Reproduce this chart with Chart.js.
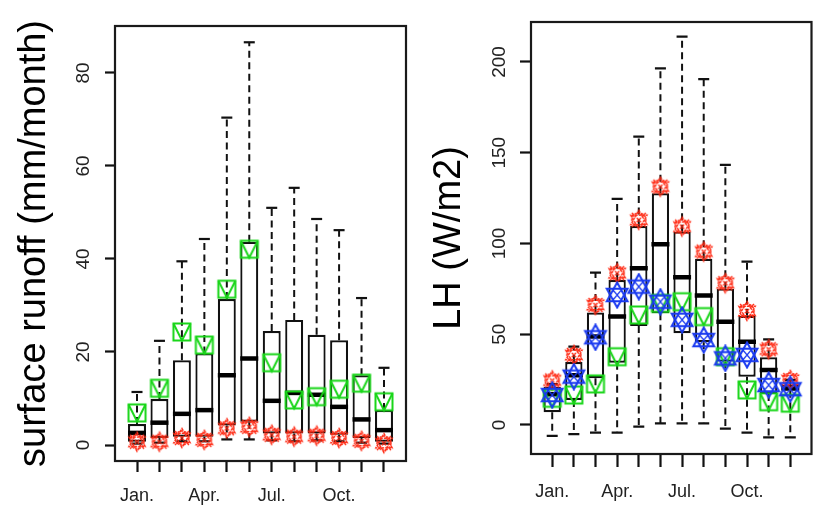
<!DOCTYPE html>
<html>
<head>
<meta charset="utf-8">
<script src="https://cdn.jsdelivr.net/npm/chart.js@4"></script>
<style>
  html, body { margin: 0; padding: 0; background: #fff; }
  #wrap { position: relative; width: 825px; height: 505px; overflow: hidden; }
  #c1 { position: absolute; left: 0; top: 0; }
  #c2 { position: absolute; left: 420px; top: 0; }
</style>
</head>
<body>
<div id="wrap">
  <canvas id="c1" width="420" height="505"></canvas>
  <canvas id="c2" width="405" height="505"></canvas>
</div>
<script>
// ---------- data ----------
const monthPos = [1, 2, 3, 4, 5, 6, 7, 8, 9, 10, 11, 12];
const monthLabels = ['Jan.', '', '', 'Apr.', '', '', 'Jul.', '', '', 'Oct.', '', ''];

// surface runoff (mm/month)
const roLo  = [0.3, 0.5, 0.8, 0.8, 1.2, 1.2, 1.0, 0.8, 1.0, 0.8, 0.5, 0.3];
const roQ1  = [0.7, 1.5, 1.8, 1.8, 4.2, 5.0, 2.5, 2.5, 2.5, 2.2, 1.5, 0.7];
const roMed = [2.6, 4.8, 6.7, 7.5, 15.0, 18.6, 9.5, 11.2, 10.8, 8.2, 5.5, 3.2];
const roQ3  = [4.5, 9.9, 18.2, 19.7, 31.4, 43.7, 24.5, 26.9, 23.7, 22.5, 15.0, 7.5];
const roHi  = [11.4, 22.4, 39.5, 44.3, 70.4, 86.6, 51.0, 55.3, 48.6, 46.2, 31.6, 16.6];
const roGreen = [6.9, 12.2, 24.3, 21.5, 33.5, 42.1, 17.7, 9.7, 10.4, 12.0, 13.3, 9.3];
const roRed   = [0.7, 0.7, 1.5, 1.1, 3.6, 3.9, 2.2, 1.8, 2.0, 1.5, 0.9, 0.4];
const roTicks = [0, 20, 40, 60, 80];

// LH (W/m2)
const lhLo  = [-6.0, -5.0, -4.2, -4.2, -0.9, 0.9, 0.9, 0.9, -2.0, -4.2, -6.8, -6.8];
const lhQ1  = [7.0, 13.8, 25.7, 34.3, 54.5, 61.5, 50.5, 45.6, 34.9, 26.6, 17.1, 18.9];
const lhMed = [16.9, 27.4, 48.7, 59.7, 86.3, 99.5, 81.4, 71.3, 56.9, 45.9, 30.3, 20.2];
const lhQ3  = [21.1, 34.7, 61.9, 79.9, 109.6, 127.6, 106.5, 91.5, 75.1, 60.1, 37.3, 22.0];
const lhHi  = [22.5, 43.2, 83.9, 124.5, 158.9, 196.5, 213.9, 190.5, 143.3, 90.0, 47.2, 24.8];
const lhRed   = [24.5, 38.6, 66.1, 83.6, 113.0, 131.3, 109.3, 95.5, 78.1, 62.8, 41.7, 24.8];
const lhBlue  = [16.5, 26.6, 48.3, 71.6, 76.2, 67.9, 57.9, 46.8, 36.7, 38.6, 22.0, 19.7];
const lhGreen = [14.7, 16.5, 22.6, 37.6, 60.6, 67.0, 67.9, 59.7, 37.6, 19.3, 12.8, 12.0];
const lhTicks = [0, 50, 100, 150, 200];

// ---------- marker glyphs ----------
function glyph(size, draw) {
  const c = document.createElement('canvas');
  c.width = size; c.height = size;
  const g = c.getContext('2d');
  g.translate(size / 2, size / 2);
  draw(g, size);
  return c;
}
function hexagram(g, rx, ry) {
  for (const s of [1, -1]) {
    g.beginPath();
    for (let k = 0; k < 3; k++) {
      const a = -Math.PI / 2 * s + k * 2 * Math.PI / 3;
      const px = rx * Math.cos(a), py = ry * Math.sin(a);
      if (k === 0) g.moveTo(px, py); else g.lineTo(px, py);
    }
    g.closePath();
    g.stroke();
  }
}
const greenMark = glyph(22, (g) => {
  g.strokeStyle = '#19d619'; g.lineWidth = 2;
  g.strokeRect(-8.5, -8.5, 17, 17);
  g.beginPath(); g.moveTo(-8.5, -8.5); g.lineTo(0, 8.5); g.lineTo(8.5, -8.5); g.stroke();
});
const blueMark = glyph(28, (g) => {
  g.strokeStyle = '#1a3af0'; g.lineWidth = 2;
  hexagram(g, 12, 12.5);
  g.lineWidth = 1.2;
  g.beginPath(); g.moveTo(-5, -6); g.lineTo(5, 6); g.moveTo(5, -6); g.lineTo(-5, 6); g.stroke();
});
const redMark = glyph(24, (g) => {
  g.strokeStyle = '#ff2a14'; g.lineWidth = 1.4;
  g.setLineDash([2.5, 1]);
  hexagram(g, 9.5, 9.5);
  g.beginPath(); g.moveTo(-7, -7); g.lineTo(7, 7); g.moveTo(7, -7); g.lineTo(-7, 7); g.stroke();
  g.beginPath(); g.arc(0, 0, 7, 0, Math.PI * 2); g.stroke();
});

// ---------- helpers ----------
const pts = (ys) => monthPos.map((x, i) => ({ x: x, y: ys[i] }));
function whiskerPts(lo, q1, q3, hi) {
  const out = [];
  monthPos.forEach((x, i) => {
    out.push({ x: x, y: q3[i] }, { x: x, y: hi[i] }, { x: x, y: null });
    out.push({ x: x, y: q1[i] }, { x: x, y: lo[i] }, { x: x, y: null });
  });
  return out;
}
const framePlugin = {
  id: 'frame',
  afterDraw(chart) {
    const a = chart.chartArea, ctx = chart.ctx;
    ctx.save();
    ctx.strokeStyle = '#1a1a1a'; ctx.lineWidth = 2.2;
    ctx.strokeRect(a.left, a.top, a.right - a.left, a.bottom - a.top);
    ctx.restore();
  }
};

function makeChart(canvasId, cfg) {
  const datasets = [
    { type: 'line', data: whiskerPts(cfg.lo, cfg.q1, cfg.q3, cfg.hi), borderColor: '#111', borderWidth: 2,
      borderDash: [7, 4.5], pointRadius: 0, spanGaps: false, order: 9 },
    { type: 'bar', data: monthPos.map((x, i) => ({ x: x, y: [cfg.q1[i], cfg.q3[i]] })), backgroundColor: '#fff',
      borderColor: '#111', borderWidth: 2.2, borderSkipped: false, categoryPercentage: 1, barPercentage: 0.8, order: 8 },
    { type: 'scatter', data: pts(cfg.med), pointStyle: 'line', pointRadius: 9, borderWidth: 4.5, borderColor: '#000', order: 7 },
    { type: 'scatter', data: pts(cfg.hi).concat(pts(cfg.lo)), pointStyle: 'line', pointRadius: 5.5, borderWidth: 2.2, borderColor: '#111', order: 7 }
  ];
  cfg.marks.forEach((m, k) => {
    datasets.push({ type: 'scatter', data: pts(m.values), pointStyle: m.style, pointRadius: 10, order: 3 - k });
  });
  return new Chart(document.getElementById(canvasId), {
    type: 'scatter',
    data: { datasets: datasets },
    plugins: [framePlugin],
    options: {
      responsive: false, animation: false, devicePixelRatio: 1,
      layout: { padding: cfg.padding },
      plugins: { legend: { display: false }, tooltip: { enabled: false } },
      scales: {
        x: {
          type: 'linear', min: 0.02, max: 12.98, offset: false,
          grid: { offset: false, drawOnChartArea: false, drawTicks: true, tickLength: cfg.xTickLen, tickWidth: 2.2, tickColor: '#111' },
          border: { display: false },
          afterBuildTicks: (s) => { s.ticks = monthPos.map(v => ({ value: v })); },
          afterFit: (s) => { s.height = cfg.xHeight; },
          ticks: {
            autoSkip: false, maxRotation: 0, minRotation: 0, padding: cfg.xPad, color: '#222',
            font: { family: 'Liberation Sans, Arial, sans-serif', size: 18 },
            callback: (v) => monthLabels[monthPos.indexOf(v)] ?? ''
          }
        },
        y: {
          type: 'linear', min: cfg.yMin, max: cfg.yMax, beginAtZero: false,
          grid: { drawOnChartArea: false, drawTicks: true, tickLength: cfg.yTickLen, tickWidth: 2.2, tickColor: '#111' },
          border: { display: false },
          afterBuildTicks: (s) => { s.ticks = cfg.ticks.map(v => ({ value: v })); },
          afterFit: (s) => { s.width = cfg.yWidth; },
          ticks: {
            minRotation: 90, maxRotation: 90, crossAlign: 'center', padding: cfg.yPad, color: '#222',
            font: { family: 'Liberation Sans, Arial, sans-serif', size: 19 }
          },
          title: {
            display: true, text: cfg.title, color: '#000', padding: { top: cfg.titlePad, bottom: 0 },
            font: { family: 'Liberation Sans, Arial, sans-serif', size: 38 }
          }
        }
      }
    }
  });
}

makeChart('c1', {
  lo: roLo, q1: roQ1, med: roMed, q3: roQ3, hi: roHi, ticks: roTicks,
  marks: [{ values: roRed, style: redMark }, { values: roGreen, style: greenMark }],
  yMin: -3.44, yMax: 90.1, title: 'surface runoff (mm/month)',
  padding: { top: 26, right: 14, left: 0, bottom: 0 },
  yWidth: 115, xHeight: 44, xTickLen: 11, yTickLen: 10, xPad: 13, yPad: 11, titlePad: 12
});
makeChart('c2', {
  lo: lhLo, q1: lhQ1, med: lhMed, q3: lhQ3, hi: lhHi, ticks: lhTicks,
  marks: [{ values: lhRed, style: redMark }, { values: lhGreen, style: greenMark }, { values: lhBlue, style: blueMark }],
  yMin: -16, yMax: 222, title: 'LH (W/m2)',
  padding: { top: 22, right: 2, left: 0, bottom: 0 },
  yWidth: 111, xHeight: 51, xTickLen: 13, yTickLen: 11, xPad: 14, yPad: 4, titlePad: 7
});
</script>
</body>
</html>
